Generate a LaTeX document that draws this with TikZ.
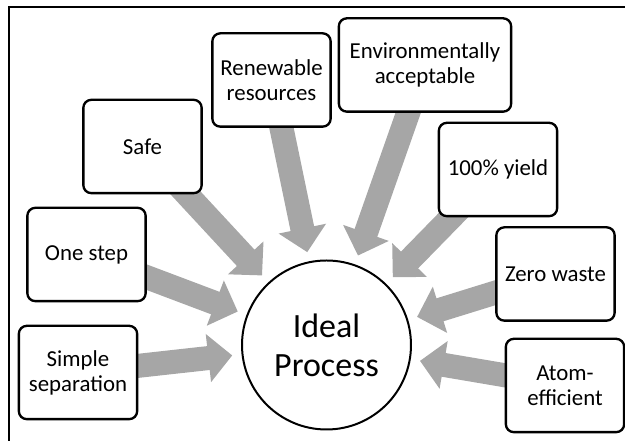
\documentclass[tikz,border=0pt]{standalone}
\usepackage{fontspec}
\setmainfont{Carlito}
\usetikzlibrary{arrows.meta, backgrounds}
\definecolor{arrowgray}{RGB}{166,166,166}

\begin{document}
\begin{tikzpicture}[
    box/.style={
        rectangle,
        rounded corners=0.24cm,
        draw,
        line width=2pt,
        fill=white,
        align=center,
        minimum width=3.55cm,
        minimum height=2.8cm,
        inner sep=0pt,
        font=\fontsize{19.5}{21.3}\selectfont
    },
    hub/.style={
        circle,
        draw,
        line width=1.7pt,
        fill=white,
        align=center,
        minimum size=5.07cm,
        font=\fontsize{29}{33.2}\selectfont
    },
    bigarrow/.style={
        arrowgray,
        line width=0.72cm,
        -{Triangle[length=0.72cm, width=1.41cm]},
        shorten >=0.28cm
    }
]

\useasboundingbox (0,0) rectangle (18.75,13.23);
\draw[line width=1.7pt] (0.27,0) -- (0.27,13.02) -- (18.75,13.02);

\node[hub] (ip) at (9.795,2.88) {Ideal\\Process};

\node[box] (sim) at (2.34,2.055) {Simple\\separation};
\node[box] (one) at (2.595,5.595) {One step};
\node[box] (safe) at (4.275,8.835) {Safe};
\node[box] (ren) at (8.145,10.83) {Renewable\\resources};
\node[box, minimum width=5.17cm] (env) at (12.75,11.28) {Environmentally\\acceptable};
\node[box] (yld) at (14.94,8.145) {100\% yield};
\node[box] (zero) at (16.665,5.01) {Zero waste};
\node[box] (atom) at (16.95,1.665) {Atom-\\efficient};

\begin{scope}[on background layer]
\foreach \s in {sim, one, safe, ren, env, yld, zero, atom}
    \draw[bigarrow] (\s.center) -- (ip);
\end{scope}

\end{tikzpicture}
\end{document}
